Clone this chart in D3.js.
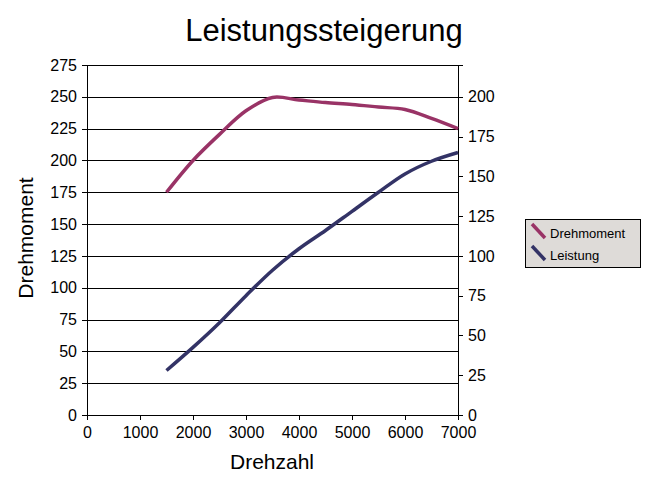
<!DOCTYPE html>
<html>
<head>
<meta charset="utf-8">
<script src="https://cdn.jsdelivr.net/npm/d3@7"></script>
<style>
  body { margin: 0; background: #fff; }
  svg { font-family: "Liberation Sans", Arial, sans-serif; }
</style>
</head>
<body>
<div id="chart"></div>
<script>
var rpm = [1500, 2000, 2500, 3000, 3500, 4000, 4500, 5000, 5500, 6000, 6500, 7000]
var drehmoment = [175, 200, 220.5, 239, 249.5, 247.5, 245.5, 244, 242, 240, 233, 225]
var leistung = [28, 42.5, 58, 75, 91, 104.5, 116, 128, 140, 151.5, 159.5, 165]
var xTicks = [0, 1000, 2000, 3000, 4000, 5000, 6000, 7000]
var leftTicks = d3.range(0, 276, 25)
var rightTicks = d3.range(0, 201, 25)

var W = 655, H = 487
var margin = { top: 65, right: 197, bottom: 72, left: 87 }
var width = W - margin.left - margin.right,
    height = H - margin.top - margin.bottom

var svg = d3.select("#chart").append("svg")
  .attr("width", W).attr("height", H)

var x = d3.scaleLinear().domain([0, 7000]).range([0, width])
var yL = d3.scaleLinear().domain([0, 275]).range([height, 0])
var yR = d3.scaleLinear().domain([0, 220]).range([height, 0])

var g = svg.append("g")
  .attr("transform", "translate(" + margin.left + "," + margin.top + ")")

// gridlines
g.append("g").selectAll("line").data(leftTicks).enter().append("line")
  .attr("x1", 0).attr("x2", width)
  .attr("y1", d => Math.round(yL(d)) + 0.5).attr("y2", d => Math.round(yL(d)) + 0.5)
  .attr("stroke", "#000").attr("shape-rendering", "crispEdges")

function styleAxis(sel) {
  sel.selectAll("path, line").attr("stroke", "#000").attr("shape-rendering", "crispEdges")
  sel.selectAll("text").attr("fill", "#000").style("font-size", "16px")
    .style("font-family", '"Liberation Sans", Arial, sans-serif')
}

g.append("g")
  .attr("transform", "translate(0," + height + ")")
  .call(d3.axisBottom(x).tickValues(xTicks).tickFormat(d3.format("d"))
    .tickSizeOuter(0).tickSize(5).tickPadding(7))
  .call(styleAxis)

g.append("g")
  .call(d3.axisLeft(yL).tickValues(leftTicks).tickSizeOuter(0).tickSize(5).tickPadding(5))
  .call(styleAxis)

g.append("g")
  .attr("transform", "translate(" + width + ",0)")
  .call(d3.axisRight(yR).tickValues(rightTicks).tickSizeOuter(0).tickSize(5).tickPadding(5))
  .call(styleAxis)

// lines
var lineL = d3.line().x((d, i) => x(rpm[i])).y(d => yL(d)).curve(d3.curveCatmullRom)
var lineR = d3.line().x((d, i) => x(rpm[i])).y(d => yR(d)).curve(d3.curveCatmullRom)

g.append("path").datum(drehmoment)
  .attr("d", lineL).attr("fill", "none")
  .attr("stroke", "#993366").attr("stroke-width", 3.5)

g.append("path").datum(leistung)
  .attr("d", lineR).attr("fill", "none")
  .attr("stroke", "#333366").attr("stroke-width", 3.5)

// titles
svg.append("text")
  .attr("x", 324).attr("y", 41)
  .attr("text-anchor", "middle")
  .style("font-size", "31px")
  .text("Leistungssteigerung")

svg.append("text")
  .attr("x", 272).attr("y", 469)
  .attr("text-anchor", "middle")
  .style("font-size", "21px")
  .text("Drehzahl")

svg.append("text")
  .attr("transform", "translate(33,238) rotate(-90)")
  .attr("text-anchor", "middle")
  .style("font-size", "21px")
  .text("Drehmoment")

// legend
var legend = svg.append("g")
legend.append("rect")
  .attr("x", 525.5).attr("y", 219.5).attr("width", 115).attr("height", 48)
  .attr("fill", "#dedbd8").attr("stroke", "#000")

var series = [{ name: "Drehmoment", color: "#993366" }, { name: "Leistung", color: "#333366" }]
var items = legend.selectAll("g.item").data(series).enter().append("g")
  .attr("transform", (d, i) => "translate(0," + (i * 22) + ")")
items.append("line")
  .attr("x1", 532).attr("y1", 224).attr("x2", 545).attr("y2", 238)
  .attr("stroke", d => d.color).attr("stroke-width", 3.5)
items.append("text")
  .attr("x", 550).attr("y", 238)
  .style("font-size", "13px")
  .text(d => d.name)
</script>
</body>
</html>
